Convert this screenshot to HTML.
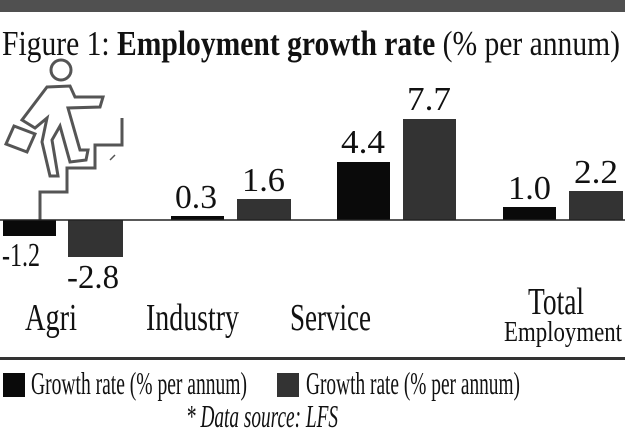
<!DOCTYPE html>
<html><head><meta charset="utf-8"><style>
html,body{margin:0;padding:0;background:#fff;}
svg{display:block;}
text{font-family:"Liberation Serif",serif;fill:#111;}
</style></head><body>
<svg width="625" height="447" viewBox="0 0 625 447">
<rect x="0" y="0" width="625" height="12" fill="#505050"/>
<text x="2" y="55" font-size="35" textLength="618" lengthAdjust="spacingAndGlyphs">Figure 1: <tspan font-weight="bold">Employment growth rate</tspan> (% per annum)</text>
<g fill="none" stroke="#555" stroke-width="3" stroke-linejoin="miter">
<polyline points="40,221 40,192 67,192 67,168 95,168 95,145 122,145 122,118"/>
<circle cx="61" cy="70" r="10"/>
<polygon points="47,87 70,86 75,97 103,97 100,107 68,108 80,150 88,150 86,160 70,162 60,126 52,140 58,176 50,176 42,142 47,118 35,128 22,120"/>
<polygon points="6,144 14,126 35,134 27,152"/>
<line x1="115" y1="155" x2="110" y2="160" stroke-width="1.5"/>
</g>
<rect x="3" y="220" width="53" height="16" fill="#0a0a0a"/>
<rect x="68" y="220" width="55" height="37" fill="#333"/>
<rect x="171" y="216" width="53" height="4" fill="#0a0a0a"/>
<rect x="237" y="199" width="54" height="21" fill="#333"/>
<rect x="337" y="162" width="53" height="58" fill="#0a0a0a"/>
<rect x="403" y="119" width="53" height="101" fill="#333"/>
<rect x="503" y="207" width="53" height="13" fill="#0a0a0a"/>
<rect x="569" y="191" width="54" height="29" fill="#333"/>
<line x1="0" y1="220" x2="625" y2="220" stroke="#222" stroke-width="1.5"/>
<g font-size="34">
<text x="2" y="266" textLength="38" lengthAdjust="spacingAndGlyphs">-1.2</text>
<text x="67" y="288" textLength="52" lengthAdjust="spacingAndGlyphs">-2.8</text>
<text x="175" y="208" textLength="42" lengthAdjust="spacingAndGlyphs">0.3</text>
<text x="242" y="191" textLength="43" lengthAdjust="spacingAndGlyphs">1.6</text>
<text x="341" y="153" textLength="44" lengthAdjust="spacingAndGlyphs">4.4</text>
<text x="407" y="110" textLength="44" lengthAdjust="spacingAndGlyphs">7.7</text>
<text x="508" y="199" textLength="43" lengthAdjust="spacingAndGlyphs">1.0</text>
<text x="574" y="183" textLength="44" lengthAdjust="spacingAndGlyphs">2.2</text>
</g>
<g font-size="38">
<text x="25" y="330" textLength="52" lengthAdjust="spacingAndGlyphs">Agri</text>
<text x="146" y="330" textLength="93" lengthAdjust="spacingAndGlyphs">Industry</text>
<text x="290" y="330" textLength="81" lengthAdjust="spacingAndGlyphs">Service</text>
<text x="528" y="314" textLength="56" lengthAdjust="spacingAndGlyphs">Total</text>
</g>
<text x="504" y="341" font-size="29" textLength="118" lengthAdjust="spacingAndGlyphs">Employment</text>
<rect x="0" y="357" width="625" height="3" fill="#333"/>
<rect x="3" y="373" width="22" height="24" fill="#0a0a0a"/>
<text x="31" y="394" font-size="32" textLength="216" lengthAdjust="spacingAndGlyphs">Growth rate (% per annum)</text>
<rect x="277" y="373" width="22" height="24" fill="#333"/>
<text x="306" y="394" font-size="32" textLength="214" lengthAdjust="spacingAndGlyphs">Growth rate (% per annum)</text>
<text x="186" y="427" font-size="32" font-style="italic" textLength="152" lengthAdjust="spacingAndGlyphs">* Data source: LFS</text>
</svg>
</body></html>
